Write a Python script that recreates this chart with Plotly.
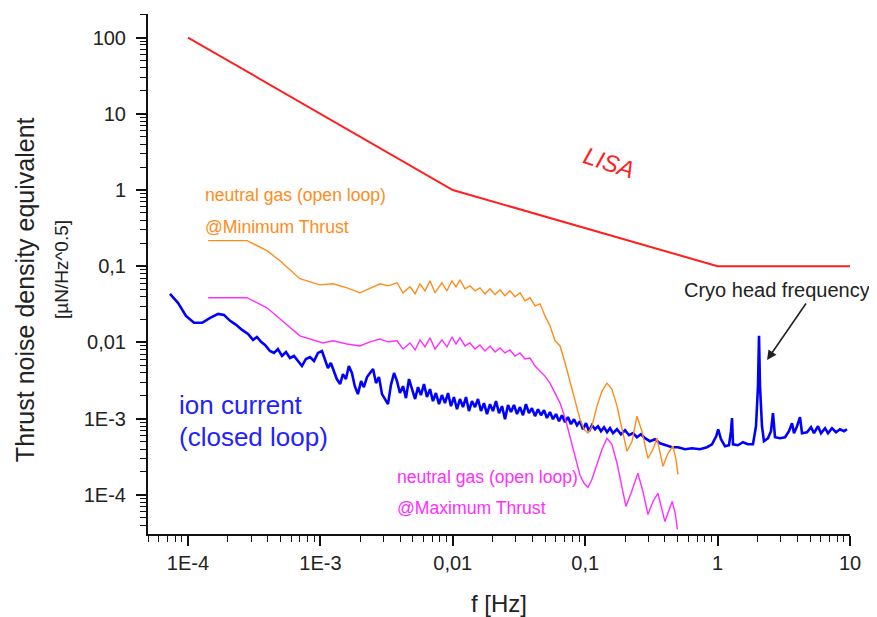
import plotly.graph_objects as go

# ---------------- data ----------------
lisa_f = [1e-4, 0.01, 1, 10]
lisa_v = [100, 1, 0.1, 0.1]

# neutral gas (open loop) @ minimum thrust
min_f = [1.42e-4, 2.79e-4, 3.95e-4, 4.95e-4, 7.0e-4, 9.9e-4, 1.245e-3, 1.59e-3, 1.99e-3, 2.37e-3,
         2.82e-3, 3.24e-3, 3.79e-3, 4.21e-3, 4.75e-3, 5.19e-3, 5.65e-3, 6.17e-3, 6.73e-3, 7.34e-3,
         8.28e-3, 9.03e-3, 9.86e-3, 0.01057, 0.01133, 0.01236, 0.01349, 0.01472, 0.01604, 0.0175,
         0.0191, 0.02083, 0.0227, 0.02478, 0.02704, 0.0295, 0.0322, 0.0351, 0.0383, 0.0418,
         0.0456, 0.0497, 0.0542, 0.0592, 0.0646, 0.0705, 0.0768, 0.0838, 0.0914, 0.098,
         0.105, 0.1125, 0.1227, 0.134, 0.146, 0.159, 0.174, 0.19, 0.207, 0.226,
         0.246, 0.268, 0.298, 0.325, 0.348, 0.387, 0.422, 0.46, 0.485, 0.502]
min_v = [0.217, 0.217, 0.16, 0.118, 0.0686, 0.057, 0.0589, 0.052, 0.0448, 0.052,
         0.0589, 0.0553, 0.0607, 0.0448, 0.0537, 0.0434, 0.0589, 0.0476, 0.0644, 0.0448,
         0.0607, 0.0476, 0.0644, 0.0537, 0.0664, 0.0506, 0.0553, 0.0476, 0.052, 0.0434,
         0.0506, 0.0422, 0.0491, 0.0409, 0.0476, 0.0397, 0.0448, 0.0352, 0.0385, 0.0302,
         0.0321, 0.0223, 0.0165, 0.0105, 0.0090, 0.00537, 0.00311, 0.00181, 9.84e-4, 7.27e-4,
         6.45e-4, 7.96e-4, 1.46e-3, 2.30e-3, 2.93e-3, 2.44e-3, 1.46e-3, 7.27e-4, 3.74e-4, 5.06e-4,
         1.08e-3, 6.85e-4, 3.02e-4, 3.97e-4, 5.54e-4, 2.37e-4, 3.52e-4, 4.35e-4, 2.93e-4, 1.86e-4]

# neutral gas (open loop) @ maximum thrust
max_f = [1.42e-4, 2.79e-4, 3.95e-4, 4.95e-4, 7.0e-4, 1.047e-3, 1.245e-3, 1.59e-3, 1.99e-3, 2.37e-3,
         2.82e-3, 3.24e-3, 3.79e-3, 4.21e-3, 4.75e-3, 5.19e-3, 5.65e-3, 6.17e-3, 6.73e-3, 7.34e-3,
         8.28e-3, 9.03e-3, 9.86e-3, 0.01057, 0.01133, 0.01236, 0.01349, 0.01472, 0.01604, 0.0175,
         0.0191, 0.02083, 0.0227, 0.02478, 0.02704, 0.0295, 0.0322, 0.0351, 0.0383, 0.0418,
         0.0456, 0.0497, 0.0542, 0.0592, 0.0646, 0.0705, 0.0768, 0.0838, 0.0914, 0.098,
         0.105, 0.1125, 0.1227, 0.134, 0.146, 0.159, 0.174, 0.19, 0.203, 0.222,
         0.25, 0.273, 0.298, 0.325, 0.354, 0.40, 0.43, 0.454, 0.479, 0.497]
max_v = [0.0386, 0.0386, 0.0285, 0.0204, 0.0122, 9.85e-3, 0.0105, 9.55e-3, 9.0e-3, 0.0102,
         0.0111, 0.0102, 0.0105, 8.2e-3, 9.85e-3, 7.96e-3, 0.0108, 8.73e-3, 0.0115, 8.2e-3,
         0.0108, 8.73e-3, 0.0118, 9.55e-3, 0.0115, 9.0e-3, 9.85e-3, 8.2e-3, 9.27e-3, 7.73e-3,
         9.0e-3, 7.5e-3, 8.47e-3, 7.28e-3, 7.96e-3, 6.64e-3, 7.28e-3, 6.07e-3, 6.25e-3, 4.91e-3,
         4.22e-3, 3.62e-3, 2.93e-3, 2.16e-3, 1.60e-3, 1.02e-3, 5.89e-4, 3.21e-4, 1.81e-4, 1.42e-4,
         1.26e-4, 1.60e-4, 2.6e-4, 3.97e-4, 5.54e-4, 4.61e-4, 2.6e-4, 1.22e-4, 7.06e-5, 1.05e-4,
         1.92e-4, 1.11e-4, 5.53e-5, 8.2e-5, 1.05e-4, 4.48e-5, 6.44e-5, 8.2e-5, 5.7e-5, 3.52e-5]

# ion current (closed loop)
ion_f = [7.31e-5, 8.4e-5, 9.66e-5, 1.11e-4, 1.28e-4, 1.47e-4, 1.69e-4, 1.87e-4, 2.08e-4, 2.31e-4,
         2.56e-4, 2.84e-4, 3.1e-4, 3.32e-4, 3.56e-4, 3.82e-4, 4.16e-4, 4.46e-4, 4.78e-4, 5.13e-4,
         5.5e-4, 5.89e-4, 6.32e-4, 6.78e-4, 7.26e-4, 7.78e-4, 8.34e-4, 8.95e-4, 9.59e-4, 1.028e-3,
         1.083e-3, 1.14e-3, 1.2e-3, 1.27e-3, 1.33e-3, 1.41e-3, 1.48e-3, 1.56e-3, 1.64e-3, 1.73e-3,
         1.82e-3, 1.92e-3, 2.03e-3, 2.13e-3, 2.25e-3, 2.37e-3, 2.5e-3, 2.63e-3, 2.77e-3, 2.92e-3,
         3.08e-3, 3.24e-3, 3.41e-3, 3.6e-3, 3.79e-3, 3.99e-3, 4.21e-3, 4.43e-3, 4.67e-3, 4.92e-3,
         5.19e-3, 5.46e-3, 5.75e-3, 6.06e-3, 6.38e-3, 6.73e-3, 7.08e-3, 7.46e-3, 7.87e-3, 8.28e-3,
         8.73e-3, 9.2e-3, 9.69e-3, 0.0102, 0.01076, 0.01133, 0.01194, 0.01258, 0.01325, 0.01396,
         0.01472, 0.0155, 0.01633, 0.0172, 0.01812, 0.0191, 0.02012, 0.0212, 0.02234, 0.02354,
         0.0248, 0.02612, 0.02752, 0.029, 0.03055, 0.0322, 0.0339, 0.0357, 0.0376, 0.0396,
         0.0418, 0.044, 0.0464, 0.0489, 0.0514, 0.0542, 0.0571, 0.0602, 0.0634, 0.0668,
         0.0704, 0.0741, 0.0781, 0.0823, 0.0867, 0.0914, 0.0962, 0.1014, 0.1069, 0.1125,
         0.1186, 0.125, 0.1316, 0.1387, 0.1462, 0.1539, 0.1622, 0.1738, 0.1862, 0.2,
         0.2143, 0.2296, 0.246, 0.2636, 0.283, 0.3085, 0.3365, 0.367, 0.4074, 0.4525,
         0.5025, 0.5675, 0.641, 0.7365, 0.832, 0.907, 0.9759, 1.0104, 1.061, 1.137,
         1.219, 1.262, 1.285, 1.307, 1.426, 1.555, 1.696, 1.85, 1.95, 2.019,
         2.055, 2.09, 2.164, 2.24, 2.403, 2.53, 2.62, 2.714, 2.96, 3.23,
         3.46, 3.647, 3.776, 3.979, 4.193, 4.34, 4.733, 5.075, 5.346, 5.732,
         6.04, 6.476, 6.822, 7.31, 7.84, 8.40, 9.01, 9.49]
ion_v = [0.0434, 0.0331, 0.0223, 0.0181, 0.0181, 0.021, 0.0237, 0.023, 0.0192, 0.017,
         0.0146, 0.0129, 0.0108, 0.0118, 0.0102, 9.27e-3, 7.73e-3, 7.28e-3, 8.2e-3, 6.64e-3,
         7.5e-3, 6.25e-3, 6.64e-3, 5.71e-3, 4.91e-3, 6.07e-3, 6.44e-3, 5.71e-3, 7.28e-3, 7.73e-3,
         6.07e-3, 4.62e-3, 5.37e-3, 3.97e-3, 3.31e-3, 2.85e-3, 3.85e-3, 3.31e-3, 4.91e-3, 3.97e-3,
         2.67e-3, 2.1e-3, 3.11e-3, 2.59e-3, 3.52e-3, 3.97e-3, 4.48e-3, 2.93e-3, 3.52e-3, 2.1e-3,
         1.81e-3, 1.55e-3, 2.76e-3, 3.97e-3, 3.11e-3, 2.17e-3, 2.67e-3, 1.86e-3, 3.31e-3, 2.44e-3,
         1.81e-3, 2.59e-3, 2.04e-3, 2.85e-3, 1.92e-3, 2.44e-3, 1.7e-3, 2.17e-3, 1.55e-3, 2.04e-3,
         1.6e-3, 2.17e-3, 1.46e-3, 1.92e-3, 1.33e-3, 1.81e-3, 1.42e-3, 1.92e-3, 1.26e-3, 1.7e-3,
         1.42e-3, 1.81e-3, 1.26e-3, 1.6e-3, 1.15e-3, 1.55e-3, 1.26e-3, 1.7e-3, 1.18e-3, 1.46e-3,
         9.84e-4, 1.51e-3, 1.22e-3, 1.51e-3, 1.15e-3, 1.42e-3, 1.11e-3, 1.55e-3, 1.18e-3, 1.37e-3,
         1.08e-3, 1.33e-3, 1.11e-3, 1.29e-3, 1.02e-3, 1.22e-3, 9.84e-4, 1.15e-3, 9.27e-4, 1.11e-3,
         9.0e-4, 1.05e-3, 8.47e-4, 9.84e-4, 8.2e-4, 9.27e-4, 7.27e-4, 8.73e-4, 6.85e-4, 8.2e-4,
         7.27e-4, 7.96e-4, 6.85e-4, 7.73e-4, 6.64e-4, 7.5e-4, 6.45e-4, 7.27e-4, 6.25e-4, 7.06e-4,
         6.07e-4, 6.45e-4, 5.71e-4, 6.25e-4, 5.54e-4, 5.06e-4, 5.37e-4, 4.76e-4, 4.48e-4, 4.22e-4,
         4.22e-4, 3.97e-4, 4.09e-4, 3.97e-4, 4.22e-4, 4.61e-4, 5.87e-4, 7.27e-4, 5.37e-4, 4.35e-4,
         4.48e-4, 6.85e-4, 1.02e-3, 4.61e-4, 4.48e-4, 4.91e-4, 4.61e-4, 4.61e-4, 7.96e-4, 2.68e-3,
         0.0122, 2.68e-3, 7.96e-4, 5.06e-4, 5.54e-4, 6.85e-4, 1.18e-3, 5.71e-4, 5.54e-4, 5.71e-4,
         6.85e-4, 8.73e-4, 6.45e-4, 7.96e-4, 1.05e-3, 6.45e-4, 6.64e-4, 7.73e-4, 6.45e-4, 7.96e-4,
         6.45e-4, 7.5e-4, 6.45e-4, 7.5e-4, 6.64e-4, 7.27e-4, 6.85e-4, 7.27e-4]

x_tick_vals = [1e-4, 1e-3, 1e-2, 1e-1, 1, 10]
x_tick_text = ["1E-4", "1E-3", "0,01", "0,1", "1", "10"]
y_tick_vals = [1e-4, 1e-3, 1e-2, 1e-1, 1, 10, 100]
y_tick_text = ["1E-4", "1E-3", "0,01", "0,1", "1", "10", "100"]

# ---------------- figure ----------------
FONT = "Liberation Sans, Arial, sans-serif"
RED = "#ff1f1f"
ORANGE = "#ff8c1a"
MAGENTA = "#ff2eff"
BLUE = "#0000ff"

fig = go.Figure()
fig.add_trace(go.Scatter(x=lisa_f, y=lisa_v, mode="lines", line=dict(color=RED, width=2)))
fig.add_trace(go.Scatter(x=ion_f, y=ion_v, mode="lines", line=dict(color=BLUE, width=2.6)))
fig.add_trace(go.Scatter(x=min_f, y=min_v, mode="lines", line=dict(color=ORANGE, width=1.4)))
fig.add_trace(go.Scatter(x=max_f, y=max_v, mode="lines", line=dict(color=MAGENTA, width=1.4)))

minor_vals = [m * 10.0 ** e for e in range(-6, 3) for m in range(2, 10)]

axis_common = dict(
    type="log", showgrid=False, zeroline=False, showline=True, linecolor="#111", linewidth=2,
    ticks="outside", ticklen=10, tickwidth=1.6, tickcolor="#111",
    tickfont=dict(family=FONT, size=20, color="#222"),
    minor=dict(tickvals=minor_vals, ticks="outside", ticklen=6, tickwidth=1.4,
               tickcolor="#111", showgrid=False),
    mirror=False,
)

fig.update_layout(
    width=877, height=617, autosize=False,
    margin=dict(l=140, r=35, t=6, b=91),
    paper_bgcolor="white", plot_bgcolor="white",
    showlegend=False,
    font=dict(family=FONT),
    xaxis=dict(range=[-4.302, 1.0], tickvals=x_tick_vals, ticktext=x_tick_text,
               ticklabelstandoff=0, **axis_common),
    yaxis=dict(range=[-4.513, 2.309], tickvals=y_tick_vals, ticktext=y_tick_text,
               ticklabelstandoff=6, **axis_common),
)

def ann(text, x, y, size, color, xanchor="left", angle=0, italic=False):
    fig.add_annotation(
        text=("<i>%s</i>" % text) if italic else text,
        xref="paper", yref="paper", x=x, y=y, xanchor=xanchor, yanchor="middle",
        showarrow=False, textangle=angle,
        font=dict(family=FONT, size=size, color=color),
    )

# axis titles
ann("f [Hz]", 0.5, -0.133, 24, "#222", xanchor="center")
ann("Thrust noise density equivalent", -0.1752, 0.469, 25, "#222", xanchor="center", angle=-90)
ann("[µN/Hz^0.5]", -0.1225, 0.5077, 19, "#222", xanchor="center", angle=-90)

# in-plot labels
ann("neutral gas (open loop)", 0.0783, 0.652, 17.6, ORANGE)
ann("@Minimum Thrust", 0.0783, 0.590, 17.6, ORANGE)
ann("ion current", 0.0413, 0.248, 26, "#2222ff")
ann("(closed loop)", 0.0413, 0.1865, 26, "#2222ff")
ann("neutral gas (open loop)", 0.352, 0.1096, 17.6, MAGENTA)
ann("@Maximum Thrust", 0.352, 0.050, 17.6, MAGENTA)
ann("Cryo head frequency", 0.7607, 0.469, 20, "#222")
ann("LISA", 0.6567, 0.7135, 24, RED, xanchor="center", angle=18, italic=True)

# arrow pointing to the cryo head peak
fig.add_annotation(
    text="", xref="paper", yref="paper", x=0.8818, y=0.3346, ax=40, ay=-58,
    showarrow=True, arrowhead=2, arrowsize=1.2, arrowwidth=1.6, arrowcolor="#222", standoff=0,
)

fig.write_html("out.html")
